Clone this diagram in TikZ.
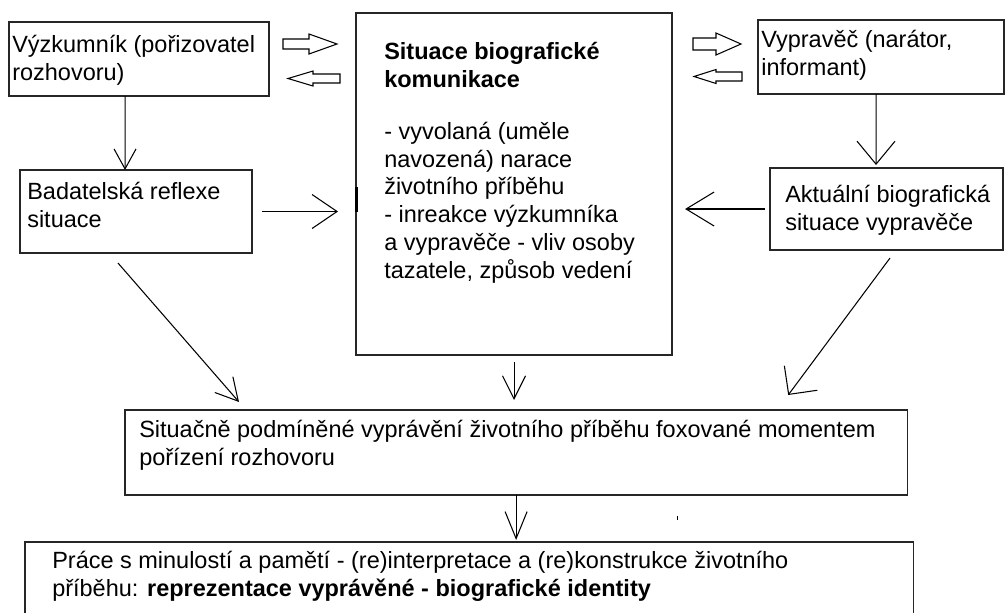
\documentclass[tikz,border=0pt]{standalone}
\usepackage{fontspec}
\setmainfont{Liberation Sans}
\usetikzlibrary{positioning,calc,arrows.meta}

\tikzset{
    panel/.style={draw=black!85, line width=0.95pt, inner sep=0pt, outer sep=0pt, anchor=north west},
    txt/.style={anchor=base west, align=left, inner sep=0pt, font=\fontsize{16.7}{19.7}\selectfont},
    barb/.style 2 args={line width=0.75pt, -{Straight Barb[length=#1mm,width=#2mm]}},
    hollow/.style={line width=0.75pt}
}

% hollow block arrow: tail x, y, length, head length, shaft half, head half
\newcommand{\blockarrow}[6]{
    \draw[hollow] (#1,#2-#5) -- (#1+#3-#4,#2-#5) -- (#1+#3-#4,#2-#6) -- (#1+#3,#2)
        -- (#1+#3-#4,#2+#6) -- (#1+#3-#4,#2+#5) -- (#1,#2+#5) -- cycle;
}

\begin{document}
\begin{tikzpicture}[x=0.025cm, y=-0.025cm]
    \clip (0,0) rectangle (1006,612);

    % boxes
    \node[panel, minimum width=6.5cm,   minimum height=1.85cm]  (vyzk)     at (9,22)    {};
    \node[panel, minimum width=5.8cm,   minimum height=2.075cm] (badat)    at (20,170)  {};
    \node[panel, minimum width=7.9cm,   minimum height=8.55cm]  (sit)      at (356,13)  {};
    \node[panel, minimum width=6.15cm,  minimum height=1.85cm]  (vyprav)   at (758,20)  {};
    \node[panel, minimum width=5.825cm, minimum height=2.05cm]  (aktual)   at (770,168) {};
    \node[panel, minimum width=19.55cm, minimum height=2.125cm] (situacne) at (125,410) {};
    \node[panel, minimum width=22.2cm,  minimum height=2.5cm]   (prace)    at (25,542)  {};

    % texts (placed by the baseline of their last line)
    \node[txt] (vyzk-t)   at (12,80)   {Výzkumník (pořizovatel\\rozhovoru)};
    \node[txt] (badat-t)  at (27,227)  {Badatelská reflexe\\situace};
    \node[txt] (vyprav-t) at (761,75)  {Vypravěč (narátor,\\informant)};
    \node[txt] (aktual-t) at (785,230) {Aktuální biografická\\situace vypravěče};
    \node[txt] (sit-t)    at (384,278) {\textbf{Situace biografické}\\\textbf{komunikace}\\[0.61cm]
        - vyvolaná (uměle\\navozená) narace\\životního příběhu\\- inreakce výzkumníka\\
        a vypravěče - vliv osoby\\tazatele, způsob vedení};
    \node[txt] (situacne-t) at (139,465)
        {Situačně podmíněné vyprávění životního příběhu foxované momentem\\pořízení rozhovoru};
    \node[txt] (prace-t) at (52,596)
        {Práce s minulostí a pamětí - (re)interpretace a (re)konstrukce životního\\
        příběhu: \textbf{reprezentace vyprávěné - biografické identity}};

    % hollow arrows between the top boxes and the middle
    \blockarrow{283}{44}{54}{28}{5}{10}
    \blockarrow{340}{78.5}{-52}{-25}{4.5}{7.5}
    \blockarrow{693}{44}{48}{25}{6}{11}
    \blockarrow{742}{76.5}{-48}{-22}{4.5}{7}

    % connectors
    \draw[barb={5}{5.5}] ([xshift=2.9cm]vyzk.south west) -- ([xshift=2.625cm]badat.north west);
    \draw[barb={5.75}{9.5}, shorten >=0.075cm] ([xshift=2.95cm]vyprav.south west) -- ([xshift=2.65cm]aktual.north west);
    \draw[barb={6.25}{8.5}, shorten <=0.25cm, shorten >=0.45cm] (badat.east) -- (badat.east -| sit.west);
    \draw[barb={7}{8.5}, shorten <=0.125cm, shorten >=0.325cm] (aktual.west) -- (aktual.west -| sit.east);
    \draw[barb={5.5}{6}] ([shift={(98,10)}]badat.south west) -- ([shift={(114,-8)}]situacne.north west);
    \draw[barb={5.1}{10.25}] ([shift={(120,8)}]aktual.south west) -- ([shift={(-119,-15)}]situacne.north east);
    \draw[barb={5.75}{5.75}, shorten <=0.175cm, shorten >=0.25cm] (sit.south) -- (sit.south |- situacne.north);
    \draw[barb={6.75}{5.5}, shorten >=0.05cm] (situacne.south) -- (situacne.south |- prace.north);

    % stray marks
    \fill (355,187) rectangle (357.5,212);
    \fill (676.5,516) rectangle (677.5,520);
\end{tikzpicture}
\end{document}
